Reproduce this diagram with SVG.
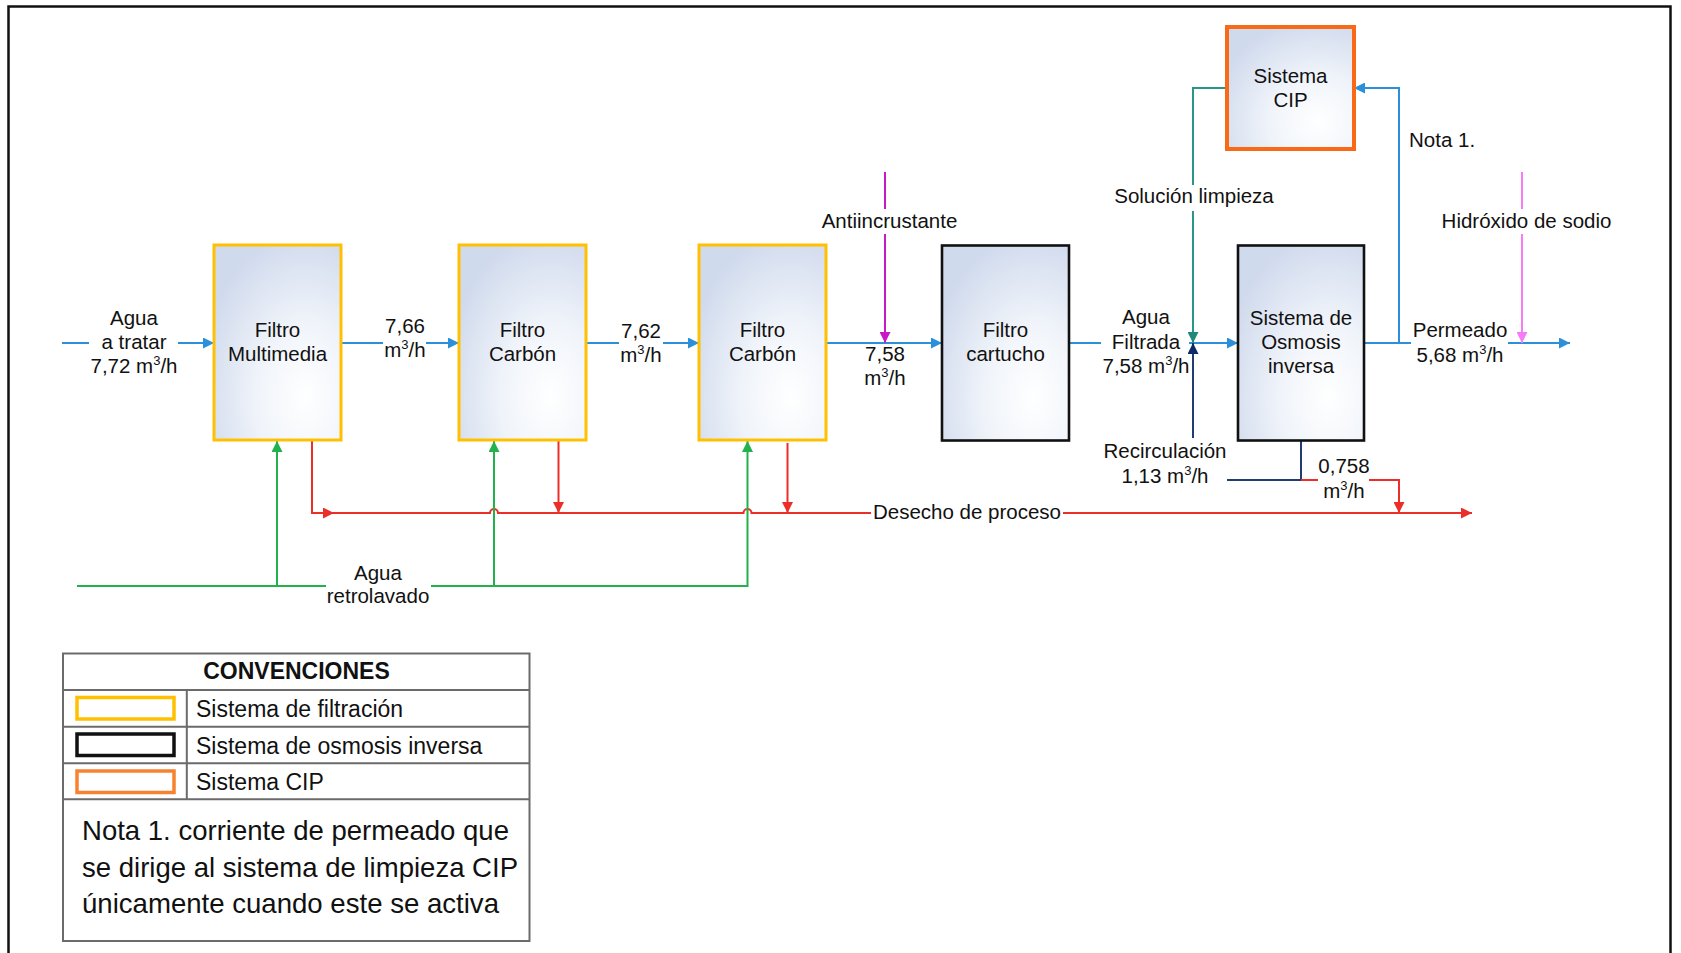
<svg xmlns="http://www.w3.org/2000/svg" width="1681" height="953" viewBox="0 0 1681 953">
<style>
text{font-family:"Liberation Sans",Arial,sans-serif;font-size:20.5px;fill:#111;}
.c{text-anchor:middle;}
.box{fill:url(#bf);}
.yel{stroke:#FFC000;stroke-width:3;}
.blk{stroke:#111;stroke-width:2.6;}
.org{stroke:#F96A16;stroke-width:4;}
.ln{fill:none;stroke-width:2;}
.blue{stroke:#2B8FDA;}
.red{stroke:#EC2E28;}
.green{stroke:#22B24C;}
.mag{stroke:#C51BC5;}
.pink{stroke:#F77BF7;}
.teal{stroke:#2A968A;}
.navy{stroke:#223B70;}
.leg{font-size:23px;}
.nota{font-size:28px;}
.sup{font-size:13px;}
</style>
<defs>
<radialGradient id="bf" cx="0.72" cy="0.78" r="0.85" fx="0.72" fy="0.78">
<stop offset="0" stop-color="#ffffff"/>
<stop offset="0.45" stop-color="#f0f4fa"/>
<stop offset="1" stop-color="#d0daed"/>
</radialGradient>
<marker id="aBlue" markerUnits="userSpaceOnUse" viewBox="0 0 12 12" refX="12" refY="6" markerWidth="12" markerHeight="11" orient="auto"><path d="M0,0L12,6L0,12z" fill="#2B8FDA"/></marker>
<marker id="aRed" markerUnits="userSpaceOnUse" viewBox="0 0 12 12" refX="12" refY="6" markerWidth="12" markerHeight="11" orient="auto"><path d="M0,0L12,6L0,12z" fill="#EC2E28"/></marker>
<marker id="aGreen" markerUnits="userSpaceOnUse" viewBox="0 0 12 12" refX="12" refY="6" markerWidth="12" markerHeight="11" orient="auto"><path d="M0,0L12,6L0,12z" fill="#22B24C"/></marker>
<marker id="aMag" markerUnits="userSpaceOnUse" viewBox="0 0 12 12" refX="12" refY="6" markerWidth="12" markerHeight="11" orient="auto"><path d="M0,0L12,6L0,12z" fill="#C51BC5"/></marker>
<marker id="aPink" markerUnits="userSpaceOnUse" viewBox="0 0 12 12" refX="12" refY="6" markerWidth="12" markerHeight="11" orient="auto"><path d="M0,0L12,6L0,12z" fill="#F77BF7"/></marker>
<marker id="aTeal" markerUnits="userSpaceOnUse" viewBox="0 0 12 12" refX="12" refY="6" markerWidth="12" markerHeight="11" orient="auto"><path d="M0,0L12,6L0,12z" fill="#1F8A7C"/></marker>
<marker id="aNavy" markerUnits="userSpaceOnUse" viewBox="0 0 12 12" refX="12" refY="6" markerWidth="12" markerHeight="11" orient="auto"><path d="M0,0L12,6L0,12z" fill="#0E2A66"/></marker>
</defs>
<rect x="0" y="0" width="1681" height="953" fill="#ffffff"/>
<rect id="frame" x="8.5" y="6.5" width="1662" height="970" fill="none" stroke="#111" stroke-width="2.5"/>

<g id="connectors">
<path class="ln blue" d="M62,343H89"/>
<path class="ln blue" d="M178,343H214" marker-end="url(#aBlue)"/>
<path class="ln blue" d="M341,343H383"/>
<path class="ln blue" d="M426,343H459" marker-end="url(#aBlue)"/>
<path class="ln blue" d="M586,343H619"/>
<path class="ln blue" d="M663,343H699" marker-end="url(#aBlue)"/>
<path class="ln blue" d="M826,343H942" marker-end="url(#aBlue)"/>
<path class="ln blue" d="M1069,343H1101"/>
<path class="ln blue" d="M1189,343H1238" marker-end="url(#aBlue)"/>
<path class="ln blue" d="M1364,343H1411"/>
<path class="ln blue" d="M1508,343H1570" marker-end="url(#aBlue)"/>
<path class="ln blue" d="M1399,343V88H1354" marker-end="url(#aBlue)"/>
<path class="ln mag" d="M885,172V209"/>
<path class="ln mag" d="M885,234V343" marker-end="url(#aMag)"/>
<path class="ln pink" d="M1522,172V209"/>
<path class="ln pink" d="M1522,234V343" marker-end="url(#aPink)"/>
<path class="ln teal" d="M1228,88H1193V185"/>
<path class="ln teal" d="M1193,211V343" marker-end="url(#aTeal)"/>
<path class="ln navy" d="M1301,441V480H1227"/>
<path class="ln navy" d="M1193,438V343" marker-end="url(#aNavy)"/>
<path class="ln red" d="M1301,480H1318"/>
<path class="ln red" d="M1369,480H1399V513" marker-end="url(#aRed)"/>
<path class="ln red" d="M312,441V513H490a4,4 0 0 1 8,0H743.5a4,4 0 0 1 8,0H871"/>
<path class="ln red" d="M322,513H334" marker-end="url(#aRed)"/>
<path class="ln red" d="M1063,513H1472" marker-end="url(#aRed)"/>
<path class="ln red" d="M558.5,441V513" marker-end="url(#aRed)"/>
<path class="ln red" d="M787.5,443V513" marker-end="url(#aRed)"/>
<path class="ln green" d="M77,586H326"/>
<path class="ln green" d="M431,586H747.5V441" marker-end="url(#aGreen)"/>
<path class="ln green" d="M277,586V441" marker-end="url(#aGreen)"/>
<path class="ln green" d="M494,586V441" marker-end="url(#aGreen)"/>
</g>

<g id="labels">
<text class="c" x="134" y="325">Agua</text>
<text class="c" x="134" y="349">a tratar</text>
<text class="c" x="134" y="373">7,72 m<tspan class="sup" dy="-8">3</tspan><tspan dy="8">/h</tspan></text>
<text class="c" x="405" y="333">7,66</text>
<text class="c" x="405" y="357">m<tspan class="sup" dy="-8">3</tspan><tspan dy="8">/h</tspan></text>
<text class="c" x="641" y="338">7,62</text>
<text class="c" x="641" y="362">m<tspan class="sup" dy="-8">3</tspan><tspan dy="8">/h</tspan></text>
<text class="c" x="889.5" y="228">Antiincrustante</text>
<text class="c" x="885" y="361">7,58</text>
<text class="c" x="885" y="385">m<tspan class="sup" dy="-8">3</tspan><tspan dy="8">/h</tspan></text>
<text class="c" x="1194" y="203">Solución limpieza</text>
<text x="1409" y="147">Nota 1.</text>
<text class="c" x="1526.5" y="228">Hidróxido de sodio</text>
<text class="c" x="1146" y="324">Agua</text>
<text class="c" x="1146" y="349">Filtrada</text>
<text class="c" x="1146" y="373">7,58 m<tspan class="sup" dy="-8">3</tspan><tspan dy="8">/h</tspan></text>
<text class="c" x="1460" y="337">Permeado</text>
<text class="c" x="1460" y="362">5,68 m<tspan class="sup" dy="-8">3</tspan><tspan dy="8">/h</tspan></text>
<text class="c" x="1165" y="458">Recirculación</text>
<text class="c" x="1165" y="483">1,13 m<tspan class="sup" dy="-8">3</tspan><tspan dy="8">/h</tspan></text>
<text class="c" x="1344" y="473">0,758</text>
<text class="c" x="1344" y="498">m<tspan class="sup" dy="-8">3</tspan><tspan dy="8">/h</tspan></text>
<text class="c" x="967" y="519">Desecho de proceso</text>
<text class="c" x="378" y="580">Agua</text>
<text class="c" x="378" y="603">retrolavado</text>
</g>

<g id="n-multimedia">
<rect class="box yel" x="214" y="245" width="127" height="195"/>
<text class="c" x="277.5" y="337">Filtro</text>
<text class="c" x="277.5" y="361">Multimedia</text>
</g>
<g id="n-carbon1">
<rect class="box yel" x="459" y="245" width="127" height="195"/>
<text class="c" x="522.5" y="337">Filtro</text>
<text class="c" x="522.5" y="361">Carbón</text>
</g>
<g id="n-carbon2">
<rect class="box yel" x="699" y="245" width="127" height="195"/>
<text class="c" x="762.5" y="337">Filtro</text>
<text class="c" x="762.5" y="361">Carbón</text>
</g>
<g id="n-cartucho">
<rect class="box blk" x="942" y="245.5" width="127" height="195"/>
<text class="c" x="1005.5" y="337">Filtro</text>
<text class="c" x="1005.5" y="361">cartucho</text>
</g>
<g id="n-osmosis">
<rect class="box blk" x="1238" y="245.5" width="126" height="195"/>
<text class="c" x="1301" y="325">Sistema de</text>
<text class="c" x="1301" y="349">Osmosis</text>
<text class="c" x="1301" y="373">inversa</text>
</g>
<g id="n-cip">
<rect class="box org" x="1227" y="27" width="127" height="122"/>
<text class="c" x="1290.5" y="83">Sistema</text>
<text class="c" x="1290.5" y="107">CIP</text>
</g>

<g id="legend">
<rect x="63" y="653.5" width="466.5" height="287.5" fill="#fff" stroke="#6b6b6b" stroke-width="2"/>
<path d="M63,690H529.5M63,726.7H529.5M63,763.3H529.5M63,799.3H529.5M186.8,690V799.3" stroke="#6b6b6b" stroke-width="2" fill="none"/>
<text class="c leg" x="296.5" y="679" font-weight="bold">CONVENCIONES</text>
<rect x="77" y="697.5" width="97" height="21.5" fill="none" stroke="#FFC000" stroke-width="3.5"/>
<rect x="77" y="734" width="97" height="21.5" fill="none" stroke="#111" stroke-width="3.5"/>
<rect x="77" y="771" width="97" height="21.5" fill="none" stroke="#F7822F" stroke-width="3.5"/>
<text class="leg" x="196" y="717">Sistema de filtración</text>
<text class="leg" x="196" y="753.5">Sistema de osmosis inversa</text>
<text class="leg" x="196" y="789.5">Sistema CIP</text>
<text class="nota" x="82" y="840" textLength="427" lengthAdjust="spacingAndGlyphs">Nota 1. corriente de permeado que</text>
<text class="nota" x="82" y="876.5" textLength="436" lengthAdjust="spacingAndGlyphs">se dirige al sistema de limpieza CIP</text>
<text class="nota" x="82" y="913" textLength="417" lengthAdjust="spacingAndGlyphs">únicamente cuando este se activa</text>
</g>
</svg>
